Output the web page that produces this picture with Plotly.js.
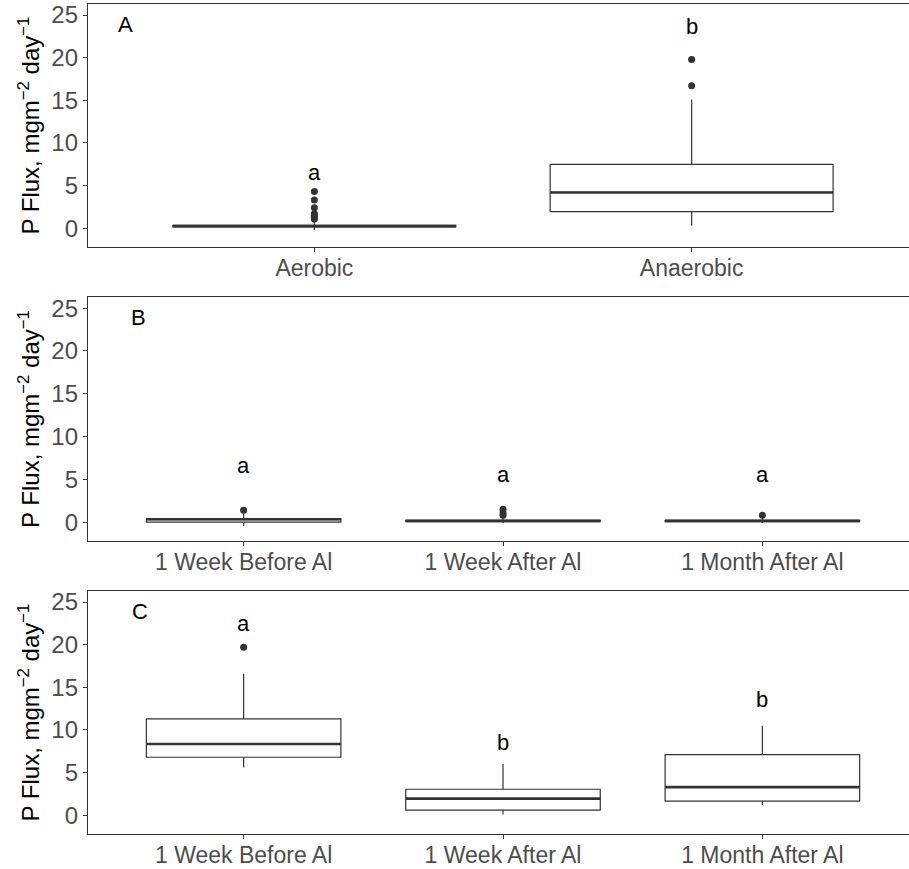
<!DOCTYPE html>
<html>
<head>
<meta charset="utf-8">
<script src="https://cdn.plot.ly/plotly-3.0.1.min.js"></script>
<style>
html,body{margin:0;padding:0;overflow:hidden;background:#fff;}
#chart{width:920px;height:869px;}
</style>
</head>
<body>
<div id="chart"></div>
<script>
// ---------- Panel A: oxygen condition ----------
const catsA = ["Aerobic", "Anaerobic"];
const q1A = [0.15, 1.95];
const medA = [0.25, 4.2];
const q3A = [0.35, 7.5];
const loA = [-0.2, 0.3];
const hiA = [0.9, 15.1];
const outA = [[4.3, 3.3, 2.4, 1.7, 1.5, 1.3, 1.1], [19.8, 16.7]];
const letA = ["a", "b"];
const letYA = [6.5, 23.7];

// ---------- Panel B: aerobic, alum timing ----------
const catsB = ["1 Week Before Al", "1 Week After Al", "1 Month After Al"];
const q1B = [0.0, 0.05, 0.05];
const medB = [0.35, 0.15, 0.15];
const q3B = [0.4, 0.2, 0.2];
const loB = [-0.45, -0.1, -0.1];
const hiB = [1.0, 0.6, 0.5];
const outB = [[1.4], [1.5, 1.1, 0.8], [0.8]];
const letB = ["a", "a", "a"];
const letYB = [6.6, 5.6, 5.6];

// ---------- Panel C: anaerobic, alum timing ----------
const catsC = ["1 Week Before Al", "1 Week After Al", "1 Month After Al"];
const q1C = [6.8, 0.6, 1.65];
const medC = [8.35, 1.95, 3.3];
const q3C = [11.3, 3.05, 7.1];
const loC = [5.6, 0.1, 1.2];
const hiC = [16.6, 6.0, 10.5];
const outC = [[19.7], [], []];
const letC = ["a", "b", "b"];
const letYC = [22.5, 8.5, 13.6];

const panelLabels = ["A", "B", "C"];
const yTicks = [0, 5, 10, 15, 20, 25];

// ---------- styling ----------
const FONT = "Liberation Sans, Arial, sans-serif";
const DARK = "#333333";
const BOXW = 0.75;

const panels = [
  {cats: catsA, q1: q1A, med: medA, q3: q3A, lo: loA, hi: hiA, out: outA, let: letA, letY: letYA},
  {cats: catsB, q1: q1B, med: medB, q3: q3B, lo: loB, hi: hiB, out: outB, let: letB, letY: letYB},
  {cats: catsC, q1: q1C, med: medC, q3: q3C, lo: loC, hi: hiC, out: outC, let: letC, letY: letYC}
];

const domains = [[0.7072, 1.0], [0.3530, 0.6470], [0.0, 0.2928]];
const labelX = [0.045, 0.061, 0.063];

const traces = [];
const annotations = [];
const layout = {
  width: 920, height: 869,
  margin: {l: 88, r: 2, t: 4, b: 35},
  paper_bgcolor: "#fff", plot_bgcolor: "#fff",
  showlegend: false,
  font: {family: FONT, color: "#000"}
};

panels.forEach((p, i) => {
  const n = i + 1;
  const xa = n === 1 ? "x" : "x" + n;
  const ya = n === 1 ? "y" : "y" + n;
  const pos = p.cats.map((_, k) => k + 1);

  traces.push({
    type: "box", xaxis: xa, yaxis: ya,
    x: pos, q1: p.q1, median: p.med, q3: p.q3,
    lowerfence: p.lo, upperfence: p.hi,
    width: BOXW, whiskerwidth: 0,
    boxpoints: false,
    fillcolor: "#ffffff",
    line: {color: DARK, width: 1.2},
    hoverinfo: "skip"
  });
  // thicker median bars
  pos.forEach((x, k) => {
    traces.push({
      type: "scatter", mode: "lines", xaxis: xa, yaxis: ya,
      x: [x - BOXW / 2, x + BOXW / 2], y: [p.med[k], p.med[k]],
      line: {color: DARK, width: 2.6}, hoverinfo: "skip"
    });
  });
  // outliers
  const ox = [], oy = [];
  p.out.forEach((arr, k) => arr.forEach(v => { ox.push(pos[k]); oy.push(v); }));
  if (ox.length) {
    traces.push({
      type: "scatter", mode: "markers", xaxis: xa, yaxis: ya,
      x: ox, y: oy,
      marker: {color: DARK, size: 7}, hoverinfo: "skip"
    });
  }
  // significance letters
  pos.forEach((x, k) => {
    annotations.push({
      xref: xa, yref: ya, x: x, y: p.letY[k], text: p.let[k],
      showarrow: false, xanchor: "center", yanchor: "middle",
      font: {family: FONT, size: 22, color: "#000"}
    });
  });

  const axCommon = {
    showline: true, mirror: true, linecolor: DARK, linewidth: 1.2,
    ticks: "outside", ticklen: 4, tickcolor: DARK, tickwidth: 1,
    showgrid: false, zeroline: false,
    tickfont: {family: FONT, size: 24, color: "#4D4D4D"}
  };

  layout["xaxis" + (n === 1 ? "" : n)] = Object.assign({}, axCommon, {
    anchor: ya,
    range: [0.4, p.cats.length + 0.6],
    tickmode: "array", tickvals: pos, ticktext: p.cats,
    tickfont: {family: FONT, size: 23, color: "#4D4D4D"},
    ticklabelstandoff: -4,
    domain: [0, 1]
  });
  layout["yaxis" + (n === 1 ? "" : n)] = Object.assign({}, axCommon, {
    anchor: xa,
    domain: domains[i],
    range: [-2.2, 26.3],
    tickmode: "array", tickvals: yTicks,
    title: {text: "P Flux, mgm<sup>\u22122</sup> day<sup>\u22121</sup>",
            font: {family: FONT, size: 24, color: "#000"}, standoff: 4}
  });

  annotations.push({
    xref: xa + " domain", yref: ya + " domain",
    x: labelX[i], y: 0.915, text: panelLabels[i],
    showarrow: false, xanchor: "center", yanchor: "middle",
    font: {family: FONT, size: 22, color: "#000"}
  });
});

layout.annotations = annotations;

Plotly.newPlot("chart", traces, layout, {staticPlot: true, displayModeBar: false});
</script>
</body>
</html>
